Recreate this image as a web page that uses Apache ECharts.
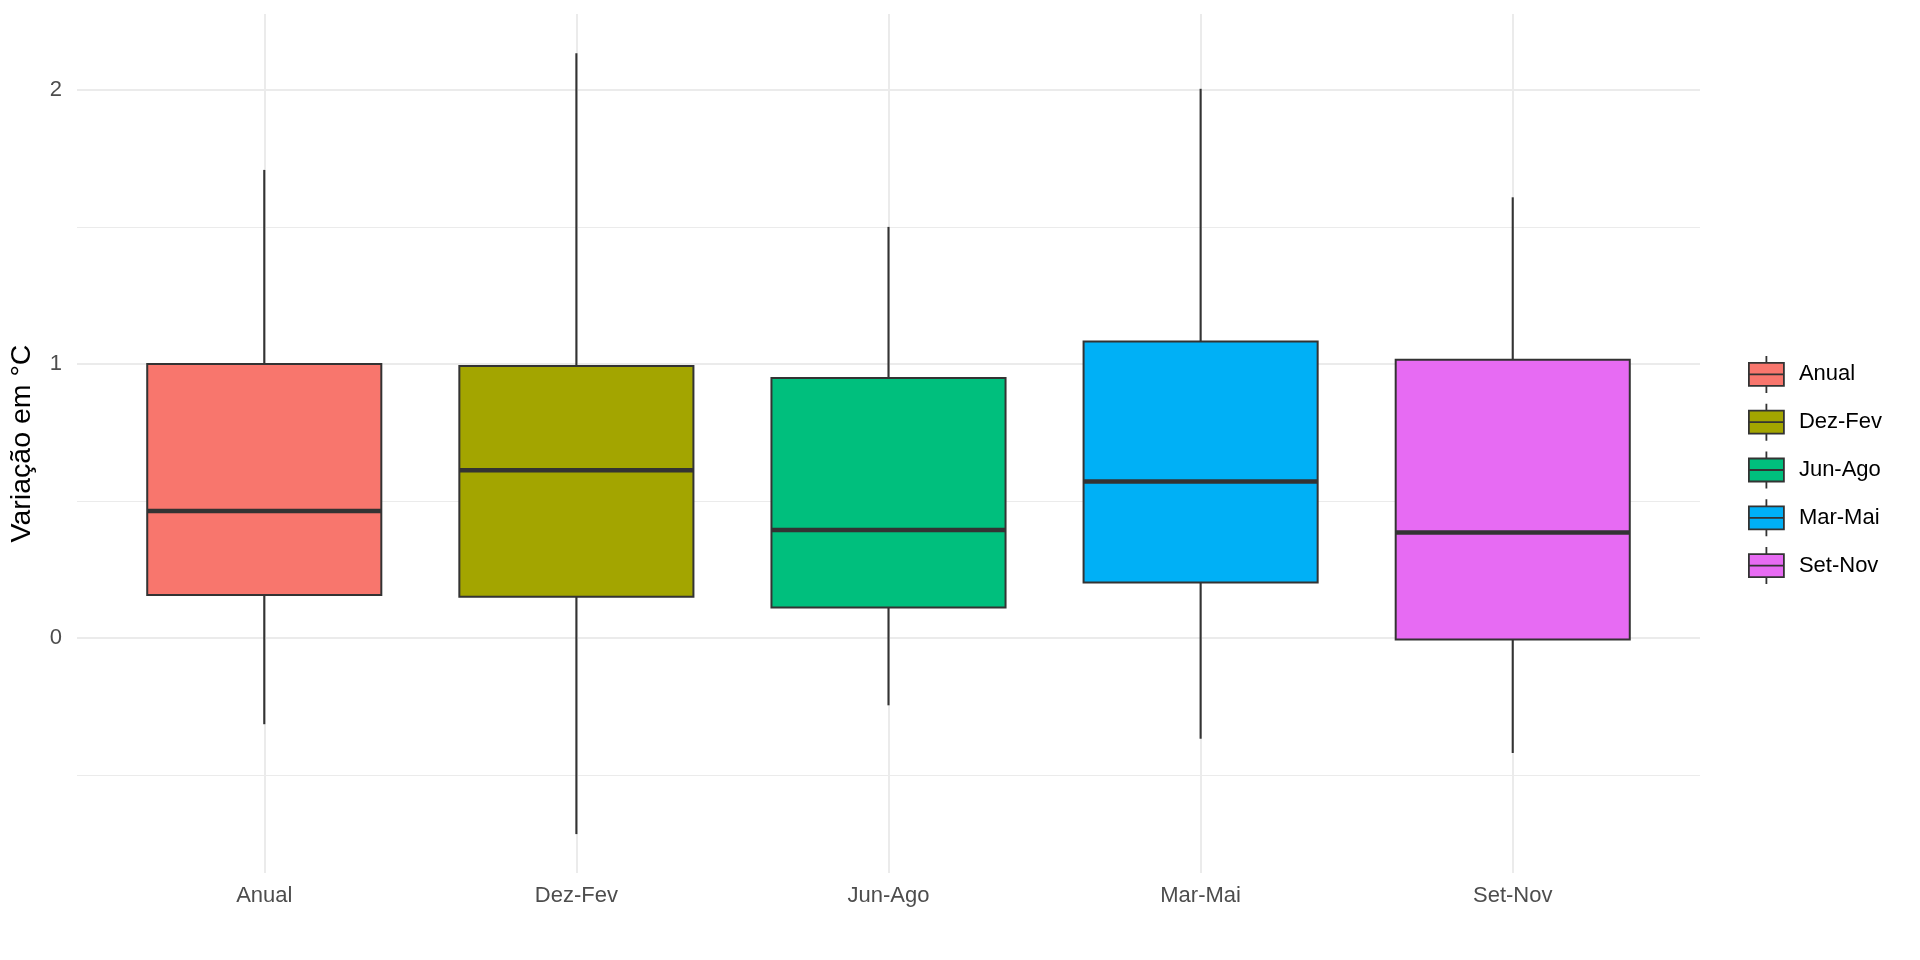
<!DOCTYPE html>
<html>
<head>
<meta charset="utf-8">
<script src="https://cdn.jsdelivr.net/npm/echarts@6/dist/echarts.min.js"></script>
<style>
html,body{margin:0;padding:0;background:#fff;}
#chart{width:1920px;height:960px;}
</style>
</head>
<body>
<div id="chart"></div>
<script>
// ---- data ----
const categories = ['Anual', 'Dez-Fev', 'Jun-Ago', 'Mar-Mai', 'Set-Nov'];
const whiskerLow  = [-0.315, -0.716, -0.246, -0.368, -0.420];
const q1          = [ 0.157,  0.150,  0.111,  0.202, -0.006];
const median      = [ 0.463,  0.612,  0.394,  0.571,  0.385];
const q3          = [ 1.000,  0.992,  0.949,  1.082,  1.015];
const whiskerHigh = [ 1.708,  2.134,  1.500,  2.004,  1.608];
const yTickLabels = [0, 1, 2];
const yMinorGrid = [-0.5, 0.5, 1.5];
const colors = ['#F8766D', '#A3A500', '#00BF7D', '#00B0F6', '#E76BF3'];

const FONT = '"Liberation Sans", Arial, sans-serif';
const STROKE = '#333333';

function renderBox(params, api) {
  const x = api.value(0);
  const halfW = api.size([0.75, 0])[0] / 2;
  const pLo = api.coord([x, api.value(1)]);
  const pQ1 = api.coord([x, api.value(2)]);
  const pMed = api.coord([x, api.value(3)]);
  const pQ3 = api.coord([x, api.value(4)]);
  const pHi = api.coord([x, api.value(5)]);
  const fill = api.visual('color');
  return {
    type: 'group',
    children: [
      { type: 'line', shape: { x1: pLo[0], y1: pLo[1], x2: pQ1[0], y2: pQ1[1] },
        style: { stroke: STROKE, lineWidth: 2.1 } },
      { type: 'line', shape: { x1: pQ3[0], y1: pQ3[1], x2: pHi[0], y2: pHi[1] },
        style: { stroke: STROKE, lineWidth: 2.1 } },
      { type: 'rect', shape: { x: pQ3[0] - halfW, y: pQ3[1], width: halfW * 2, height: pQ1[1] - pQ3[1] },
        style: { fill: fill, stroke: STROKE, lineWidth: 2 } },
      { type: 'line', shape: { x1: pMed[0] - halfW, y1: pMed[1], x2: pMed[0] + halfW, y2: pMed[1] },
        style: { stroke: STROKE, lineWidth: 4.5 } }
    ]
  };
}

const boxSeries = categories.map((name, i) => ({
  name: name,
  type: 'custom',
  renderItem: renderBox,
  itemStyle: { color: colors[i] },
  encode: { x: 0, y: [1, 2, 3, 4, 5] },
  data: [[i + 1, whiskerLow[i], q1[i], median[i], q3[i], whiskerHigh[i]]],
  z: 3
}));

const gridSeries = {
  name: '__grid',
  type: 'line',
  data: [],
  z: 1,
  silent: true,
  markLine: {
    silent: true,
    symbol: 'none',
    animation: false,
    label: { show: false },
    z: 1,
    data: [
      ...yTickLabels.map(v => ({ yAxis: v, lineStyle: { color: '#EBEBEB', width: 2, type: 'solid' } })),
      ...yMinorGrid.map(v => ({ yAxis: v, lineStyle: { color: '#EBEBEB', width: 1.1, type: 'solid' } })),
      ...categories.map((c, i) => ({ xAxis: i + 1, lineStyle: { color: '#EBEBEB', width: 2, type: 'solid' } }))
    ]
  }
};

const iconPath = 'path://M0,7L35,7L35,30L0,30Z M0,18.5L35,18.5 M17.5,0L17.5,7 M17.5,30L17.5,37';

const option = {
  animation: false,
  backgroundColor: '#ffffff',
  grid: { left: 76, right: 220, top: 14, bottom: 87 },
  xAxis: {
    type: 'value',
    min: 0.4,
    max: 5.6,
    axisLine: { show: false },
    axisTick: { show: false },
    splitLine: { show: false },
    axisLabel: {
      customValues: [1, 2, 3, 4, 5],
      formatter: v => categories[Math.round(v) - 1] || '',
      color: '#4D4D4D',
      fontFamily: FONT,
      fontSize: 22,
      margin: 12
    }
  },
  yAxis: {
    type: 'value',
    min: -0.858,
    max: 2.277,
    axisLine: { show: false },
    axisTick: { show: false },
    splitLine: { show: false },
    axisLabel: {
      customValues: yTickLabels,
      color: '#4D4D4D',
      fontFamily: FONT,
      fontSize: 22,
      margin: 15
    },
    name: 'Variação em °C',
    nameLocation: 'middle',
    nameRotate: 90,
    nameGap: 40,
    nameTextStyle: { color: '#000', fontFamily: FONT, fontSize: 28.5 }
  },
  legend: {
    orient: 'vertical',
    left: 1748,
    top: 355,
    itemWidth: 35,
    itemHeight: 37,
    itemGap: 9,
    padding: 0,
    data: categories.map(c => ({ name: c, icon: iconPath })),
    itemStyle: { borderColor: STROKE, borderWidth: 1.8 },
    textStyle: { color: '#000', fontFamily: FONT, fontSize: 22, padding: [0, 0, 0, 10] },
    selectedMode: false
  },
  series: [gridSeries, ...boxSeries]
};

const chart = echarts.init(document.getElementById('chart'), null, { renderer: 'canvas' });
chart.setOption(option);
</script>
</body>
</html>
